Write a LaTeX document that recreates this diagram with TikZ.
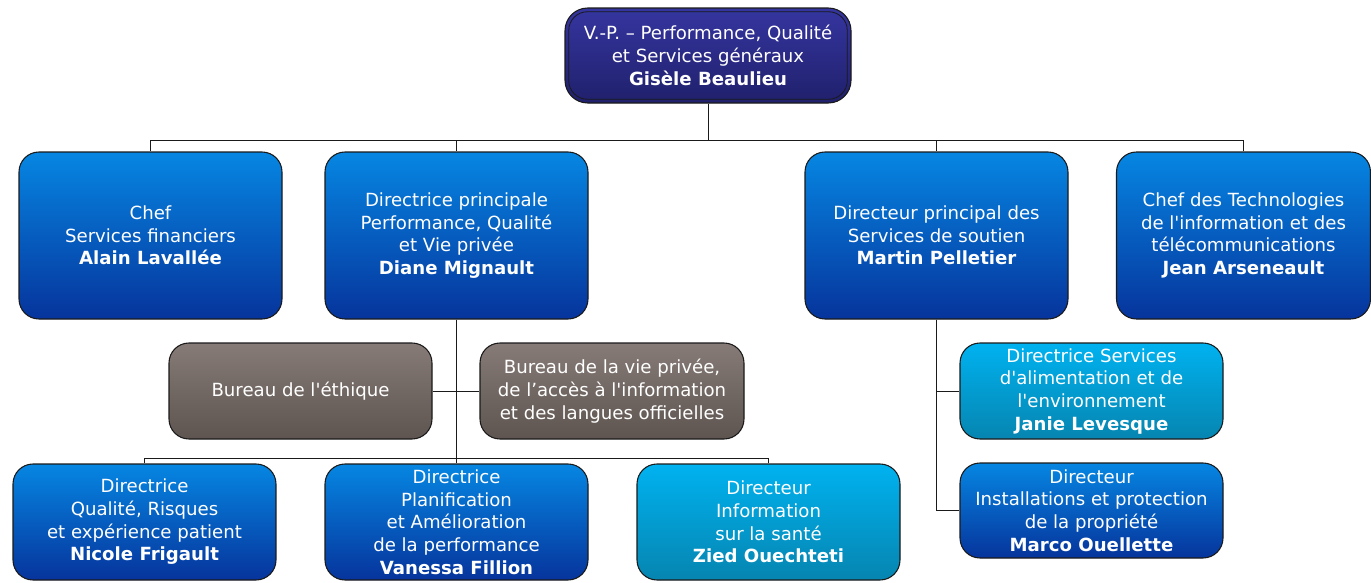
\documentclass[tikz,border=0pt]{standalone}
\usepackage{fontspec}
\setmainfont{DejaVu Sans}[Ligatures=TeXOff]
\definecolor{navytop}{HTML}{3535A0}
\definecolor{navybot}{HTML}{20206C}
\definecolor{bluetop}{HTML}{0686E2}
\definecolor{bluebot}{HTML}{06349C}
\definecolor{cyantop}{HTML}{00B2F0}
\definecolor{cyanbot}{HTML}{0685B0}
\definecolor{graytop}{HTML}{867B76}
\definecolor{graybot}{HTML}{5E5550}
\definecolor{linecol}{HTML}{1A1A1A}
\tikzset{
  box/.style={draw=linecol, line width=0.8pt, rounded corners=15pt, text=white, align=center,
    font=\fontsize{13.6}{17}\selectfont, inner sep=1pt},
  bluebox/.style={box, top color=bluetop, bottom color=bluebot},
  cyanbox/.style={box, top color=cyantop, bottom color=cyanbot},
  graybox/.style={box, top color=graytop, bottom color=graybot},
  navybox/.style={box, top color=navytop, bottom color=navybot, rounded corners=17pt},
  conn/.style={draw=linecol, line width=0.7pt},
}
\begin{document}
\begin{tikzpicture}[x=0.75pt,y=-0.75pt]
\useasboundingbox (0,0) rectangle (1371,582);
% top
\node[navybox, minimum width=286*0.75pt, minimum height=95*0.75pt] (top) at (708,55.5)
  {V.-P. – Performance, Qualité\\ et Services généraux\\ \textbf{Gisèle Beaulieu}};
\draw[linecol, line width=0.6pt, rounded corners=14pt]
  ([shift={(3.2pt,-3.2pt)}]top.north west) rectangle ([shift={(-3.2pt,3.2pt)}]top.south east);
% row 1
\node[bluebox, minimum width=263*0.75pt, minimum height=167*0.75pt] (alain) at (150.5,235.5)
  {Chef\\ Services financiers\\ \textbf{Alain Lavallée}};
\node[bluebox, minimum width=263*0.75pt, minimum height=167*0.75pt] (diane) at (456.5,235.5)
  {Directrice principale\\ Performance, Qualité\\ et Vie privée\\ \textbf{Diane Mignault}};
\node[bluebox, minimum width=263*0.75pt, minimum height=167*0.75pt] (martin) at (936.5,235.5)
  {Directeur principal des\\ Services de soutien\\ \textbf{Martin Pelletier}};
\node[bluebox, minimum width=254*0.75pt, minimum height=167*0.75pt] (jean) at (1243.5,235.5)
  {Chef des Technologies\\ de l'information et des\\ télécommunications\\ \textbf{Jean Arseneault}};
% grey offices
\node[graybox, minimum width=263*0.75pt, minimum height=96*0.75pt] (ethique) at (300.5,391)
  {Bureau de l'éthique};
\node[graybox, minimum width=264*0.75pt, minimum height=96*0.75pt] (vie) at (612,391)
  {Bureau de la vie privée,\\ de l’accès à l'information\\ et des langues officielles};
% Martin's reports
\node[cyanbox, minimum width=263*0.75pt, minimum height=96*0.75pt] (janie) at (1091.5,391)
  {Directrice Services\\ d'alimentation et de\\ l'environnement\\ \textbf{Janie Levesque}};
\node[bluebox, minimum width=263*0.75pt, minimum height=95*0.75pt] (marco) at (1091.5,510.5)
  {Directeur\\ Installations et protection\\ de la propriété\\ \textbf{Marco Ouellette}};
% row 3
\node[bluebox, minimum width=263*0.75pt, minimum height=116*0.75pt] (nicole) at (144.5,522)
  {Directrice\\ Qualité, Risques\\ et expérience patient\\ \textbf{Nicole Frigault}};
\node[bluebox, minimum width=263*0.75pt, minimum height=116*0.75pt] (vanessa) at (456.5,522)
  {Directrice\\ Planification\\ et Amélioration\\ de la performance\\ \textbf{Vanessa Fillion}};
\node[cyanbox, minimum width=263*0.75pt, minimum height=116*0.75pt] (zied) at (768.5,522)
  {Directeur\\ Information\\ sur la santé\\ \textbf{Zied Ouechteti}};
% connectors
\coordinate (bus) at (708,140);
\draw[conn] (top.south) -- (bus);
\draw[conn] (bus) -| (alain.north);
\draw[conn] (bus) -| (diane.north);
\draw[conn] (bus) -| (martin.north);
\draw[conn] (bus) -| (jean.north);
\coordinate (dbus) at (456.5,458);
\draw[conn] (diane.south) -- (dbus);
\draw[conn] (dbus) -| (nicole.north);
\draw[conn] (dbus) -| (vanessa.north);
\draw[conn] (dbus) -| (zied.north);
\draw[conn] (ethique.east) -- (vie.west);
\draw[conn] (martin.south) |- (janie.west);
\draw[conn] (martin.south) |- (marco.west);
\end{tikzpicture}
\end{document}
